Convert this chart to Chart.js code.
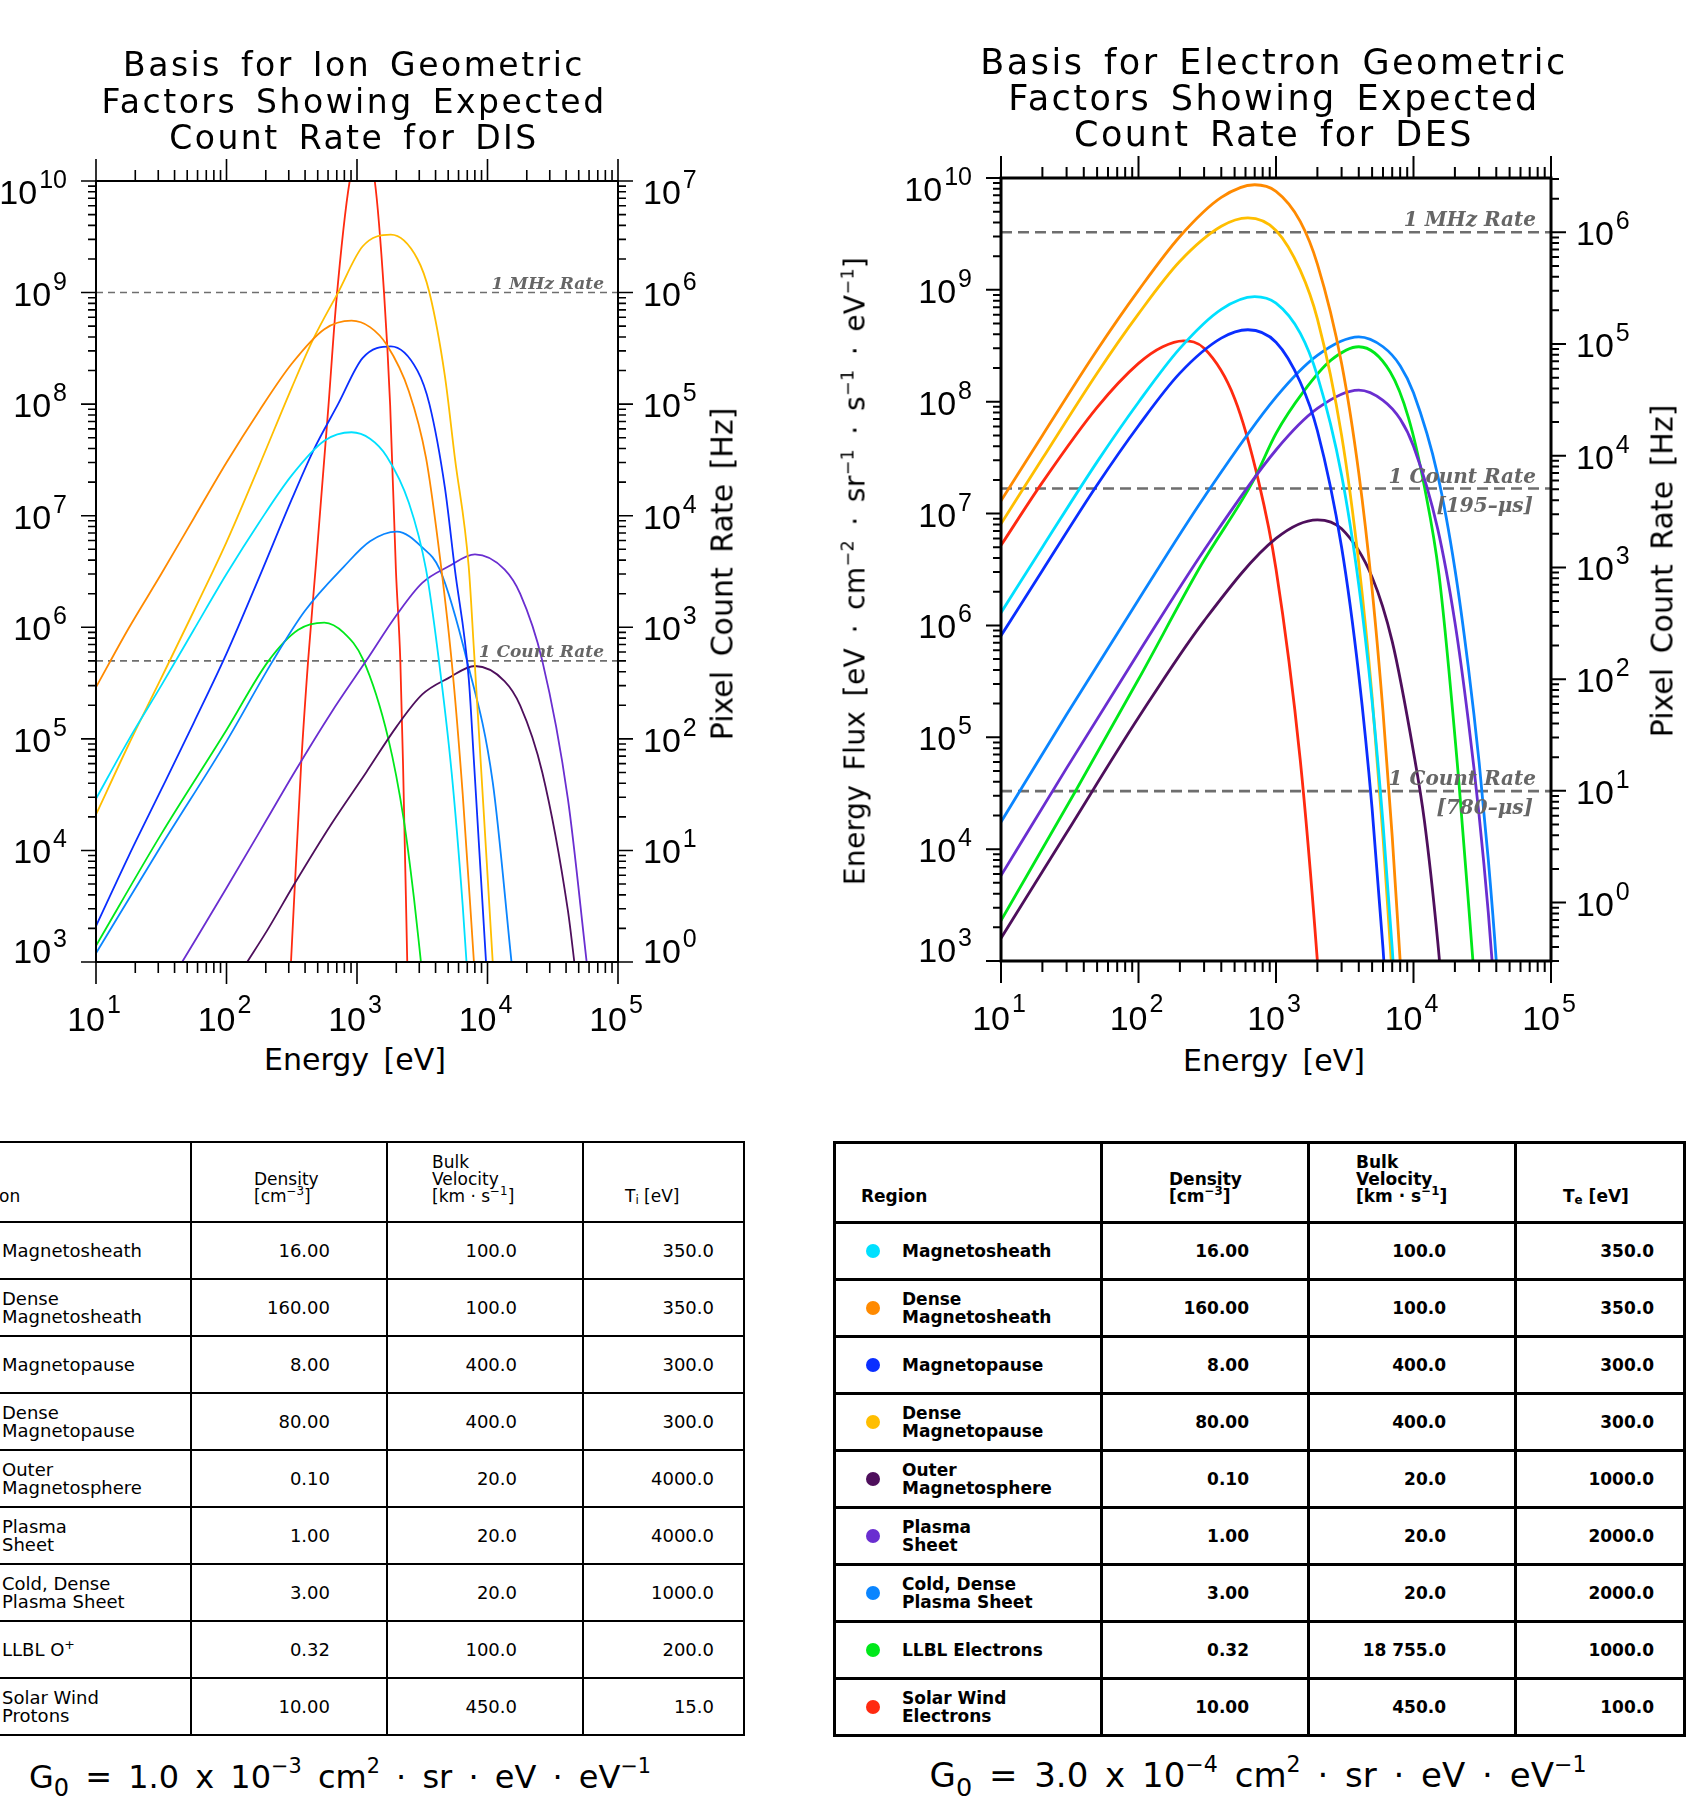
<!DOCTYPE html>
<html>
<head>
<meta charset="utf-8">
<title>DIS / DES geometric factor basis</title>
<script src="https://cdn.jsdelivr.net/npm/chart.js@4.4.1/dist/chart.umd.min.js"></script>
<style>
  body { margin: 0; background: #fff; }
  #page { position: relative; width: 1694px; height: 1800px; overflow: hidden; font-family: "DejaVu Sans", sans-serif; color: #000; }
  canvas { position: absolute; top: 0; }
  .lbl { position: absolute; white-space: nowrap; transform: translate(-50%, -50%); }
  .rot { transform: translate(-50%, -50%) rotate(-90deg); }
  .title { position: absolute; text-align: center; font-size: 33px; line-height: 36.5px; letter-spacing: 2.5px; word-spacing: 6px; transform: translateX(-50%); white-space: nowrap; }
  .axt { font-size: 30px; word-spacing: 5px; }
  .axt sup { font-size: 0.62em; vertical-align: 0.65em; line-height: 0; }
  .flux { font-size: 28px; letter-spacing: 0.4px; }
  .g0 { font-size: 32px; word-spacing: 6px; }
  .g0 sup { font-size: 0.65em; vertical-align: 0.7em; line-height: 0; }
  .g0 sub { font-size: 0.75em; vertical-align: -0.35em; line-height: 0; }
  table.tab { position: absolute; top: 1141px; border-collapse: collapse; table-layout: fixed; font-size: 18px; }
  table.tab td { border: 2px solid #000; padding: 0; height: 55px; vertical-align: middle; line-height: 18px; position: relative; }
  table.tab tr.hd td { height: 62px; vertical-align: bottom; padding-bottom: 16px; font-size: 17px; line-height: 17px; }
  table.tab sup { font-size: 0.7em; vertical-align: 0.55em; line-height: 0; }
  table.tab sub { font-size: 0.7em; vertical-align: -0.2em; line-height: 0; }
  #desTab { font-weight: bold; font-size: 17px; }
  #desTab td { border-width: 3px; height: 54px; }
  #desTab tr.hd td { height: 61px; }
  .num { text-align: right; }
  .dot { position: absolute; width: 14px; height: 14px; border-radius: 50%; top: 50%; margin-top: -7px; }
</style>
</head>
<body>
<div id="page">
  <canvas id="disChart" width="847" height="1040" style="left:0"></canvas>
  <canvas id="desChart" width="847" height="1040" style="left:847px"></canvas>

  <div class="title" style="left:354px; top:47px">Basis for Ion Geometric<br>Factors Showing Expected<br>Count Rate for DIS</div>
  <div class="title" style="left:1274px; top:44px; font-size:35px; line-height:36px">Basis for Electron Geometric<br>Factors Showing Expected<br>Count Rate for DES</div>

  <div class="lbl axt" style="left:355px; top:1059px">Energy [eV]</div>
  <div class="lbl axt" style="left:1274px; top:1060px">Energy [eV]</div>
  <div class="lbl axt rot" style="left:722px; top:574px">Pixel Count Rate [Hz]</div>
  <div class="lbl axt rot" style="left:1662px; top:571px">Pixel Count Rate [Hz]</div>
  <div class="lbl axt flux rot" style="left:855px; top:571px">Energy Flux [eV · cm<sup>−2</sup> · sr<sup>−1</sup> · s<sup>−1</sup> · eV<sup>−1</sup>]</div>

  <table class="tab" id="disTab" style="left:-77px"></table>
  <table class="tab" id="desTab" style="left:833px"></table>

  <div class="lbl g0" style="left:340px; top:1777px">G<sub>0</sub> = 1.0 x 10<sup>−3</sup> cm<sup>2</sup> · sr · eV · eV<sup>−1</sup></div>
  <div class="lbl g0" style="left:1258px; top:1775px; font-size:34px">G<sub>0</sub> = 3.0 x 10<sup>−4</sup> cm<sup>2</sup> · sr · eV · eV<sup>−1</sup></div>
</div>

<script>
// ---------- DIS (ions): energy [eV] and energy flux ----------
const disMshE = [10, 17.8, 31.6, 56.2, 100, 178, 316, 562, 908, 1259, 1690, 2500, 3380, 4170, 5310, 6457, 7870];
const disMshF = [2.9e4, 9.8e4, 3.0e5, 9.5e5, 3.0e6, 8.7e6, 2.3e7, 4.7e7, 5.6e7, 4.9e7, 3.4e7, 1.3e7, 3.3e6, 5.9e5, 5.0e4, 3.2e3, 1.0e2];
const disDenseMshF = [2.9e5, 9.8e5, 3.0e6, 9.5e6, 3.0e7, 8.7e7, 2.3e8, 4.7e8, 5.6e8, 4.9e8, 3.4e8, 1.3e8, 3.3e7, 5.9e6, 5.0e5, 3.2e4, 1.0e3];
const disMpE = [10, 17.8, 31.6, 56.2, 100, 178, 316, 461, 716, 1107, 1816, 2904, 3589, 4710, 5623, 7178, 7870, 10965];
const disMpF = [2.1e3, 8.9e3, 3.5e4, 1.4e5, 5.8e5, 2.8e6, 1.4e7, 3.8e7, 1.0e8, 2.6e8, 3.3e8, 2.0e8, 1.0e8, 1.8e7, 3.3e6, 3.5e5, 6.3e4, 1.0e2];
const disDenseMpF = [2.1e4, 8.9e4, 3.5e5, 1.4e6, 5.8e6, 2.8e7, 1.4e8, 3.8e8, 1.0e9, 2.6e9, 3.3e9, 2.0e9, 1.0e9, 1.8e8, 3.3e7, 3.5e6, 6.3e5, 1.0e3];
const disOuterE = [144, 204, 331, 631, 1175, 2023, 3162, 5012, 8017, 13490, 17783, 26303, 41305, 46774];
const disOuterF = [1.0e3, 1.9e3, 5.0e3, 1.7e4, 5.0e4, 1.3e5, 2.5e5, 3.5e5, 4.5e5, 3.3e5, 2.0e5, 5.0e4, 2.9e3, 9.0e2];
const disPsE = [45.7, 100, 204, 331, 631, 1175, 2023, 3162, 5012, 8017, 13490, 17783, 26303, 41305, 57544];
const disPsF = [1.0e3, 4.6e3, 1.9e4, 5.0e4, 1.7e5, 5.0e5, 1.3e6, 2.5e6, 3.5e6, 4.5e6, 3.3e6, 2.0e6, 5.0e5, 2.9e4, 1.0e3];
const disCdpsE = [10, 31.6, 100, 224, 398, 794, 1259, 2023, 3162, 4305, 6966, 10965, 15276];
const disCdpsF = [1.2e3, 1.1e4, 9.5e4, 4.9e5, 1.4e6, 3.5e6, 5.9e6, 7.2e6, 5.2e6, 3.3e6, 5.0e5, 4.1e4, 1.0e3];
const disLlblE = [10, 31.6, 100, 210, 355, 562, 794, 1107, 1738, 2280, 2735, 3090];
const disLlblF = [1.4e3, 1.4e4, 1.2e5, 5.0e5, 9.5e5, 1.1e6, 8.9e5, 5.2e5, 1.0e5, 1.9e4, 3.7e3, 1.0e3];
const disSwE = [312, 373, 422, 481, 605, 692, 879, 1096, 1368, 1611, 1795, 1986, 2148, 2254, 2427];
const disSwF = [1.0e3, 5.8e4, 5.0e5, 3.3e6, 9.8e7, 8.0e8, 1.0e10, 2.3e10, 1.0e10, 1.0e9, 9.8e7, 3.3e6, 5.0e5, 5.8e4, 1.0e3];

// ---------- DES (electrons) ----------
const desMshE = [10, 20, 50, 100, 200, 400, 700, 1000, 1500, 2000, 3000, 4000, 5000, 6000, 7000, 8000];
const desMshF = [1.3e6, 5.0e6, 2.9e7, 9.9e7, 3.0e8, 6.7e8, 8.7e8, 7.6e8, 4.1e8, 1.7e8, 2.2e7, 2.3e6, 2.1e5, 1.7e4, 1.3e3, 1.0e2];
const desDenseMshF = [1.3e7, 5.0e7, 2.9e8, 9.9e8, 3.0e9, 6.7e9, 8.7e9, 7.6e9, 4.1e9, 1.7e9, 2.2e8, 2.3e7, 2.1e6, 1.7e5, 1.3e4, 1.0e3];
const desMpE = [10, 20, 50, 100, 200, 400, 624, 1000, 1500, 2000, 3000, 4000, 5000, 6000, 7000];
const desMpF = [8.1e5, 3.1e6, 1.8e7, 6.1e7, 1.8e8, 3.7e8, 4.4e8, 3.4e8, 1.5e8, 5.5e7, 5.0e6, 3.6e5, 2.3e4, 1.3e3, 74];
const desDenseMpF = [8.1e6, 3.1e7, 1.8e8, 6.1e8, 1.8e9, 3.7e9, 4.4e9, 3.4e9, 1.5e9, 5.5e8, 5.0e7, 3.6e6, 2.3e5, 1.3e4, 740];
const desOuterE = [10, 30, 100, 300, 1000, 2000, 3000, 5000, 7000, 10000, 12000, 15000, 17000];
const desOuterF = [1.6e3, 1.4e4, 1.5e5, 1.1e6, 6.0e6, 8.8e6, 7.3e6, 2.7e6, 7.2e5, 7.4e4, 1.8e4, 1.5e3, 2.5e2];
const desPsE = [10, 30, 100, 300, 1000, 2000, 4000, 6000, 8000, 10000, 15000, 20000, 25000, 30000, 35000, 40000, 45000];
const desPsF = [5.8e3, 5.3e4, 5.7e5, 4.7e6, 3.7e7, 8.7e7, 1.27e8, 1.03e8, 7.0e7, 4.0e7, 7.3e6, 1.07e6, 1.43e5, 2.0e4, 2.7e3, 3.3e2, 33];
const desCdpsF = [1.75e4, 1.6e5, 1.7e6, 1.4e7, 1.1e8, 2.6e8, 3.8e8, 3.1e8, 2.1e8, 1.2e8, 2.2e7, 3.2e6, 4.3e5, 6.0e4, 8.0e3, 1.0e3, 1.0e2];
const desLlblE = [10, 33.8, 100, 287, 689, 1000, 1585, 2512, 4000, 6761, 9183, 12050, 15350, 21380, 27230];
const desLlblF = [2.3e3, 3.1e4, 3.3e5, 3.5e6, 2.0e7, 5.2e7, 1.23e8, 2.35e8, 3.1e8, 1.85e8, 7.2e7, 1.7e7, 2.8e6, 4.0e4, 9.0e2];
const desSwE = [10, 20, 50, 100, 150, 212, 300, 500, 750, 1000, 1500, 2000, 2300];
const desSwF = [5.2e6, 1.9e7, 8.9e7, 2.2e8, 3.1e8, 3.5e8, 3.0e8, 1.07e8, 1.9e7, 3.2e6, 6.3e4, 1.0e3, 80];

// rate reference levels (left-axis units)
const disRateLevels = [1e9, 5.0e5];
const desRateLevels = [3.27e9, 1.675e7, 3.3e4];

// ---------- tables ----------
const disRegions = ['Magnetosheath', 'Dense<br>Magnetosheath', 'Magnetopause', 'Dense<br>Magnetopause', 'Outer<br>Magnetosphere',
  'Plasma<br>Sheet', 'Cold, Dense<br>Plasma Sheet', 'LLBL O<sup>+</sup>', 'Solar Wind<br>Protons'];
const desRegions = ['Magnetosheath', 'Dense<br>Magnetosheath', 'Magnetopause', 'Dense<br>Magnetopause', 'Outer<br>Magnetosphere',
  'Plasma<br>Sheet', 'Cold, Dense<br>Plasma Sheet', 'LLBL Electrons', 'Solar Wind<br>Electrons'];
const disDensity = [16, 160, 8, 80, 0.1, 1, 3, 0.32, 10];
const disVelocity = [100, 100, 400, 400, 20, 20, 20, 100, 450];
const disTemp = [350, 350, 300, 300, 4000, 4000, 1000, 200, 15];
const desDensity = [16, 160, 8, 80, 0.1, 1, 3, 0.32, 10];
const desVelocity = [100, 100, 400, 400, 20, 20, 20, 18755, 450];
const desTemp = [350, 350, 300, 300, 1000, 2000, 2000, 1000, 100];

const regionColors = ['#00e0ff', '#ff8a00', '#0a2eff', '#ffbe00', '#4e0f5c', '#6a2ed0', '#0a85ff', '#00e81a', '#ff2a10'];

function pairs(es, fs) {
  return es.map((e, i) => ({ x: e, y: fs[i] }));
}

function curve(es, fs, color, width) {
  return {
    data: pairs(es, fs), borderColor: color, borderWidth: width,
    pointRadius: 0, fill: false, cubicInterpolationMode: 'monotone'
  };
}

function rateLine(level, dash, width) {
  return {
    data: [{ x: 10, y: level }, { x: 1e5, y: level }], borderColor: '#6e6e6e',
    borderWidth: width, borderDash: dash, pointRadius: 0, fill: false
  };
}

function logValues(min, max) {
  const out = [];
  const d0 = Math.floor(Math.log10(min)), d1 = Math.ceil(Math.log10(max));
  for (let d = d0; d <= d1; d++) {
    for (let m = 1; m <= 9; m++) {
      const v = m * Math.pow(10, d);
      if (v >= min * 0.9999 && v <= max * 1.0001) out.push({ v, m, d });
    }
  }
  return out;
}

// "10" with a raised exponent, IDL style
const BASE_FONT = '34px "Liberation Sans"';
const EXP_FONT = '25px "Liberation Sans"';
function drawPow(ctx, exp, x, baseline, align, rise) {
  ctx.font = BASE_FONT;
  const bw = ctx.measureText('10').width;
  ctx.font = EXP_FONT;
  const ew = ctx.measureText(String(exp)).width;
  const total = bw + 2 + ew;
  const x0 = align === 'right' ? x - total : align === 'center' ? x - total / 2 : x;
  ctx.textAlign = 'left';
  ctx.textBaseline = 'alphabetic';
  ctx.font = BASE_FONT;
  ctx.fillText('10', x0, baseline);
  ctx.font = EXP_FONT;
  ctx.fillText(String(exp), x0 + bw + 2, baseline - rise);
}

function idlAxes(cfg) {
  return {
    id: 'idlAxes',
    afterDatasetsDraw(chart) {
      const { ctx, chartArea: a } = chart;
      const sx = chart.scales.x, sy = chart.scales.y, sy2 = chart.scales.y2;
      ctx.save();
      ctx.strokeStyle = '#000';
      ctx.fillStyle = '#000';

      ctx.lineWidth = cfg.tickWidth;
      ctx.beginPath();
      logValues(sx.min, sx.max).forEach(t => {
        const p = sx.getPixelForValue(t.v), len = t.m === 1 ? 22 : 11;
        ctx.moveTo(p, a.bottom); ctx.lineTo(p, a.bottom + len);
        ctx.moveTo(p, a.top); ctx.lineTo(p, a.top - len);
      });
      logValues(sy.min, sy.max).forEach(t => {
        const p = sy.getPixelForValue(t.v), len = t.m === 1 ? 15 : 8;
        ctx.moveTo(a.left, p); ctx.lineTo(a.left - len, p);
      });
      logValues(sy2.min, sy2.max).forEach(t => {
        const p = sy2.getPixelForValue(t.v), len = t.m === 1 ? 15 : 8;
        ctx.moveTo(a.right, p); ctx.lineTo(a.right + len, p);
      });
      ctx.stroke();

      ctx.lineWidth = cfg.axisWidth;
      ctx.strokeRect(a.left, a.top, a.right - a.left, a.bottom - a.top);

      const clampBase = p => Math.min(Math.max(p + 13, a.top + 23), a.bottom + 1);
      logValues(sx.min, sx.max).filter(t => t.m === 1).forEach(t => {
        drawPow(ctx, t.d, sx.getPixelForValue(t.v) - 2, a.bottom + 69, 'center', 18);
      });
      logValues(sy.min, sy.max).filter(t => t.m === 1).forEach(t => {
        drawPow(ctx, t.d, a.left - 29, clampBase(sy.getPixelForValue(t.v)), 'right', 16);
      });
      logValues(sy2.min, sy2.max).filter(t => t.m === 1).forEach(t => {
        drawPow(ctx, t.d, a.right + 25, clampBase(sy2.getPixelForValue(t.v)), 'left', 16);
      });

      // rate line captions
      ctx.fillStyle = '#666';
      ctx.font = cfg.captionFont;
      ctx.textAlign = 'right';
      cfg.captions.forEach(c => {
        const p = sy.getPixelForValue(c.level);
        ctx.fillText(c.text, a.right - c.inset, p + c.dy);
      });
      ctx.restore();
    }
  };
}

function makeChart(id, datasets, y2range, padding, axes) {
  return new Chart(document.getElementById(id).getContext('2d'), {
    type: 'line',
    data: { datasets },
    options: {
      responsive: false,
      animation: false,
      layout: { padding },
      plugins: { legend: { display: false }, tooltip: { enabled: false }, title: { display: false } },
      scales: {
        x: { type: 'logarithmic', min: 10, max: 1e5, display: false },
        y: { type: 'logarithmic', min: 1e3, max: 1e10, display: false },
        y2: { type: 'logarithmic', position: 'right', min: y2range[0], max: y2range[1], display: false }
      }
    },
    plugins: [idlAxes(axes)]
  });
}

const c = regionColors;
const disSets = [
  curve(disMshE, disMshF, c[0], 1.8),
  curve(disMshE, disDenseMshF, c[1], 1.8),
  curve(disMpE, disMpF, c[2], 1.8),
  curve(disMpE, disDenseMpF, c[3], 1.8),
  curve(disOuterE, disOuterF, c[4], 1.8),
  curve(disPsE, disPsF, c[5], 1.8),
  curve(disCdpsE, disCdpsF, c[6], 1.8),
  curve(disLlblE, disLlblF, c[7], 1.8),
  curve(disSwE, disSwF, c[8], 1.8),
  ...disRateLevels.map(l => rateLine(l, [7, 5], 1.6))
];
makeChart('disChart', disSets, [1, 1e7], { left: 96, top: 181, right: 229, bottom: 78 }, {
  tickWidth: 1.6, axisWidth: 2,
  captionFont: 'italic bold 17px "DejaVu Serif"',
  captions: [
    { level: disRateLevels[0], text: '1 MHz Rate', inset: 14, dy: -4 },
    { level: disRateLevels[1], text: '1 Count Rate', inset: 14, dy: -4 }
  ]
});

const desSets = [
  curve(desMshE, desMshF, c[0], 2.8),
  curve(desMshE, desDenseMshF, c[1], 2.8),
  curve(desMpE, desMpF, c[2], 2.8),
  curve(desMpE, desDenseMpF, c[3], 2.8),
  curve(desOuterE, desOuterF, c[4], 2.8),
  curve(desPsE, desPsF, c[5], 2.8),
  curve(desPsE, desCdpsF, c[6], 2.8),
  curve(desLlblE, desLlblF, c[7], 2.8),
  curve(desSwE, desSwF, c[8], 2.8),
  ...desRateLevels.map(l => rateLine(l, [11, 6], 2.6))
];
makeChart('desChart', desSets, [1e3 / 3267, 1e10 / 3267], { left: 154, top: 178, right: 143, bottom: 79 }, {
  tickWidth: 2, axisWidth: 3,
  captionFont: 'italic bold 20px "DejaVu Serif"',
  captions: [
    { level: desRateLevels[0], text: '1 MHz Rate', inset: 15, dy: -6 },
    { level: desRateLevels[1], text: '1 Count Rate', inset: 15, dy: -6 },
    { level: desRateLevels[1], text: '[195–μs]', inset: 18, dy: 23 },
    { level: desRateLevels[2], text: '1 Count Rate', inset: 15, dy: -6 },
    { level: desRateLevels[2], text: '[780–μs]', inset: 18, dy: 23 }
  ]
});

// ---------- tables ----------
function fmtVel(v) {
  return v.toFixed(1).replace(/^(\d+)(\d{3})\./, '$1 $2.');
}

function buildTable(id, regions, dens, vel, temp, tSub, layout) {
  const w = layout.widths;
  let html = '<colgroup>' + w.map(x => `<col style="width:${x}px">`).join('') + '</colgroup>';
  html += '<tr class="hd">' +
    `<td style="padding-left:${layout.head[0]}px">Region</td>` +
    `<td style="padding-left:${layout.head[1]}px">Density<br>[cm<sup>−3</sup>]</td>` +
    `<td style="padding-left:${layout.head[2]}px">Bulk<br>Velocity<br>[km · s<sup>−1</sup>]</td>` +
    `<td style="padding-left:${layout.head[3]}px">T<sub>${tSub}</sub> [eV]</td></tr>`;
  regions.forEach((r, i) => {
    html += '<tr>' +
      `<td style="padding-left:${layout.label}px"><span class="dot" style="left:30px;background:${regionColors[i]}"></span>${r}</td>` +
      `<td class="num" style="padding-right:${layout.pad[0]}px">${dens[i].toFixed(2)}</td>` +
      `<td class="num" style="padding-right:${layout.pad[1]}px">${fmtVel(vel[i])}</td>` +
      `<td class="num" style="padding-right:${layout.pad[2]}px">${temp[i].toFixed(1)}</td></tr>`;
  });
  document.getElementById(id).innerHTML = html;
}

buildTable('disTab', disRegions, disDensity, disVelocity, disTemp, 'i',
  { widths: [267, 196, 196, 161], head: [37, 62, 44, 41], label: 77, pad: [56, 65, 29] });
buildTable('desTab', desRegions, desDensity, desVelocity, desTemp, 'e',
  { widths: [267, 207, 207, 169], head: [25, 66, 46, 46], label: 66, pad: [58, 68, 29] });
</script>
</body>
</html>
